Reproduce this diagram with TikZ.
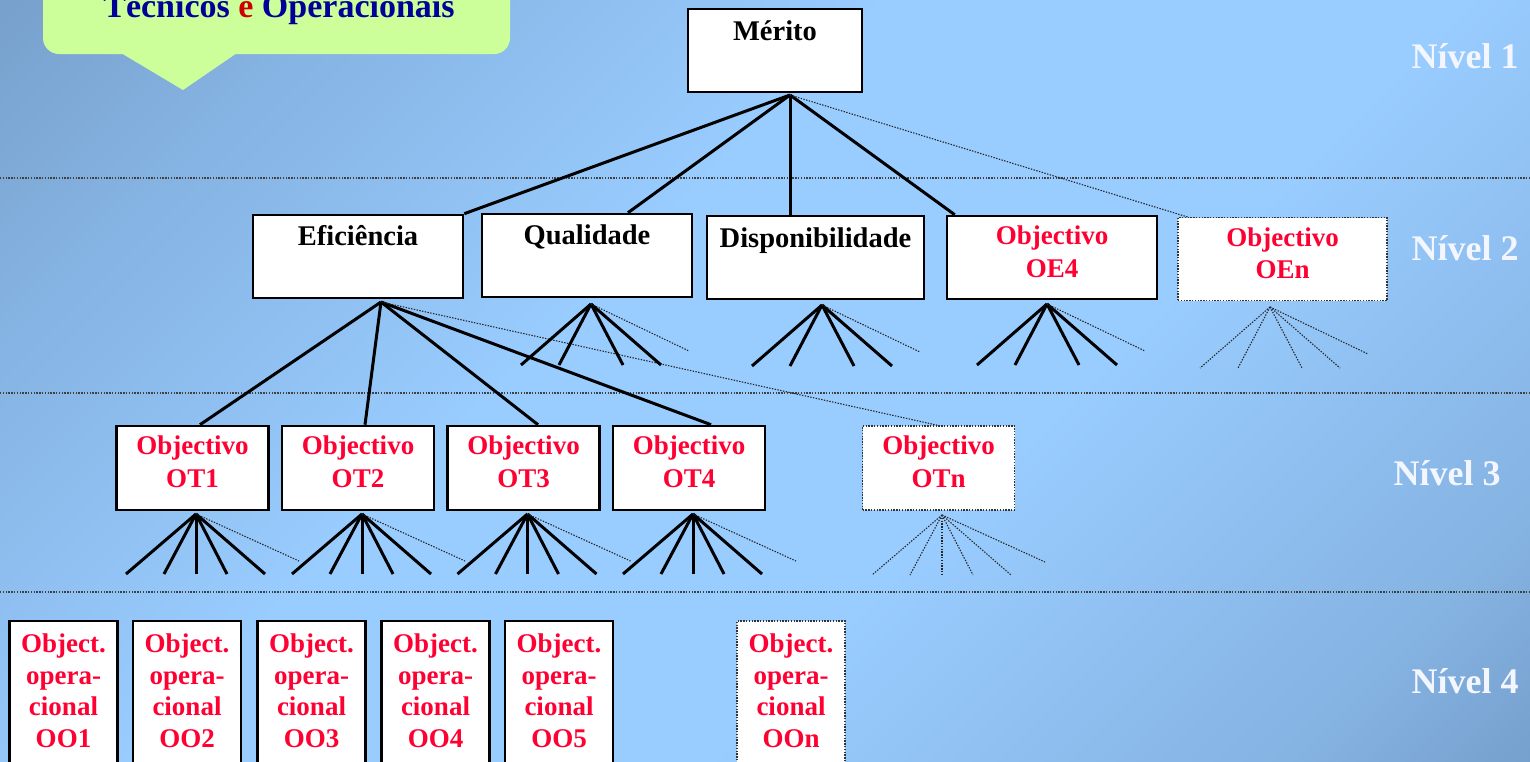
\documentclass[tikz,border=0pt]{standalone}
\usepackage{fontspec}
\setmainfont{Liberation Serif}

\definecolor{bgA}{HTML}{6586AE}
\definecolor{bgB}{HTML}{85B3E2}
\definecolor{bgC}{HTML}{99CCFF}
\definecolor{bgD}{HTML}{587AA6}
\definecolor{callout}{HTML}{CCFF99}
\definecolor{navy}{HTML}{000099}
\definecolor{darkred}{HTML}{CC0000}
\definecolor{objred}{HTML}{FF0033}
\definecolor{nivtxt}{HTML}{F4F6FF}

\pgfdeclarehorizontalshading{bgshade}{100bp}{color(0bp)=(bgA); color(25bp)=(bgB); color(42bp)=(bgC); color(60bp)=(bgC); color(78bp)=(bgB); color(100bp)=(bgD)}

\begin{document}
\begin{tikzpicture}[x=1pt, y=-1pt,
    box/.style={draw, fill=white, line width=2.6pt, inner sep=0pt},
    dbox/.style={draw=black!80, fill=white, line width=1.1pt, dash pattern=on 1.4pt off 1.4pt, inner sep=0pt},
    lvl2/.style={minimum width=210pt, minimum height=83pt},
    lvl3/.style={minimum width=152pt, minimum height=84pt},
    lvl4/.style={minimum width=108pt, minimum height=150pt},
    lab/.style={anchor=base, inner sep=0pt, align=center},
    blk/.style={font=\fontsize{28.5}{33}\selectfont\bfseries},
    objtxt/.style={text=objred, font=\fontsize{27}{32.5}\selectfont\bfseries},
    optxt/.style={text=objred, font=\fontsize{27}{31.5}\selectfont\bfseries},
    conn/.style={line width=3pt},
    dconn/.style={draw=black!85, line width=1.1pt, dash pattern=on 1.4pt off 1.4pt},
    sep/.style={draw=black!75, line width=1.2pt, dash pattern=on 1.4pt off 1.4pt},
    nivel/.style={text=nivtxt, font=\fontsize{36}{40}\selectfont\bfseries, anchor=base}]

    % background
    \clip (0,0) rectangle (1530,761);
    \shade[shading=bgshade, shading angle=-45] (0,0) rectangle (1530,761);

    % level separators
    \draw[sep] (0,178) -- (1530,178);
    \draw[sep] (0,393) -- (1530,393);
    \draw[sep] (0,592) -- (1530,592);

    % callout
    \fill[callout, rounded corners=16pt] (43,-40) rectangle (510,54);
    \fill[callout] (121,53) -- (183,90) -- (237,53) -- cycle;
    \node[anchor=base, font=\fontsize{34}{38}\selectfont\bfseries] (tecop) at (279,17)
        {\textcolor{navy}{Técnicos} \textcolor{darkred}{e} \textcolor{navy}{Operacionais}};

    % level 1
    \node[box, minimum width=174pt, minimum height=83pt,
        label={[lab, blk, yshift=-32.5pt]north:Mérito}] (merito) at (775,50.5) {};

    % level 2
    \node[box, lvl2, label={[lab, blk, yshift=-31.5pt]north:Eficiência}] (ef) at (358,256.5) {};
    \node[box, lvl2, label={[lab, blk, yshift=-31.5pt]north:Qualidade}] (qual) at (587,255.5) {};
    \node[box, lvl2, minimum width=217pt,
        label={[lab, blk, yshift=-32.5pt]north:Disponibilidade}] (disp) at (815.5,257.5) {};
    \node[box, lvl2, label={[lab, objtxt, yshift=-62.5pt]north:Objectivo\\OE4}] (oe4) at (1052,257.5) {};
    \node[dbox, lvl2, minimum width=209pt,
        label={[lab, objtxt, yshift=-62pt]north:Objectivo\\OEn}] (oen) at (1282.5,259) {};

    % level 3
    \node[box, lvl3, label={[lab, objtxt, yshift=-62.5pt]north:Objectivo\\OT1}] (ot1) at (192.5,468) {};
    \node[box, lvl3, label={[lab, objtxt, yshift=-62.5pt]north:Objectivo\\OT2}] (ot2) at (358,468) {};
    \node[box, lvl3, label={[lab, objtxt, yshift=-62.5pt]north:Objectivo\\OT3}] (ot3) at (523.5,468) {};
    \node[box, lvl3, label={[lab, objtxt, yshift=-62.5pt]north:Objectivo\\OT4}] (ot4) at (689,468) {};
    \node[dbox, lvl3, label={[lab, objtxt, yshift=-62pt]north:Objectivo\\OTn}] (otn) at (938.5,468) {};

    % level 4
    \foreach \i/\x in {1/63.5, 2/187, 3/311.5, 4/435.5, 5/559}
        \node[box, lvl4, label={[lab, optxt, yshift=-127.5pt]north:Object.\\opera-\\cional\\OO\i}] (oo\i) at (\x,696) {};
    \node[dbox, lvl4, label={[lab, optxt, yshift=-127pt]north:Object.\\opera-\\cional\\OOn}] (oon) at (791,696) {};

    % level labels
    \node[nivel] (niv1) at (1465,68) {Nível 1};
    \node[nivel] (niv2) at (1465,260) {Nível 2};
    \node[nivel] (niv3) at (1447,485) {Nível 3};
    \node[nivel] (niv4) at (1465,693) {Nível 4};

    % level 1 -> level 2
    \coordinate (mer-f) at (790,95);
    \draw[conn] (mer-f) -- (ef.north east);
    \draw[conn] (mer-f) -- ([xshift=41pt]qual.north);
    \draw[conn] (mer-f) -- ([xshift=-25.5pt]disp.north);
    \draw[conn] (mer-f) -- ([xshift=9pt]oe4.north west);
    \draw[dconn] (mer-f) -- ([xshift=10pt]oen.north west);

    % Eficiencia -> level 3
    \coordinate (ef-f) at (381,302);
    \draw[conn] (ef-f) -- ([xshift=7.5pt]ot1.north);
    \draw[conn] (ef-f) -- ([xshift=7pt]ot2.north);
    \draw[conn] (ef-f) -- ([xshift=14.5pt]ot3.north);
    \draw[conn] (ef-f) -- ([xshift=22pt]ot4.north);
    \draw[dconn] (ef-f) -- (otn.north);

    % fans under level 2
    \coordinate (qual-f) at (591,304);
    \coordinate (disp-f) at (822,305);
    \coordinate (oe4-f) at (1047,304);
    \coordinate (oen-f) at (1270,307);
    \foreach \b/\s in {qual/conn, disp/conn, oe4/conn, oen/dconn} {
        \foreach \dx [count=\i] in {-70,-32,32,70} {
            \coordinate (\b-\i) at ([shift={(\dx,61)}]\b-f);
            \draw[\s] (\b-f) -- (\b-\i);
        }
        \coordinate (\b-n) at ([shift={(98,47)}]\b-f);
        \draw[dconn] (\b-f) -- (\b-n);
    }

    % fans under level 3
    \coordinate (ot1-f) at (196,514);
    \coordinate (ot2-f) at (362,514);
    \coordinate (ot3-f) at (527.5,514);
    \coordinate (ot4-f) at (693,514);
    \coordinate (otn-f) at (942,515);
    \foreach \b/\s in {ot1/conn, ot2/conn, ot3/conn, ot4/conn, otn/dconn} {
        \foreach \dx [count=\i] in {-70,-32,0,31,69} {
            \coordinate (\b-\i) at ([shift={(\dx,60)}]\b-f);
            \draw[\s] (\b-f) -- (\b-\i);
        }
        \coordinate (\b-n) at ([shift={(103,47)}]\b-f);
        \draw[dconn] (\b-f) -- (\b-n);
    }
\end{tikzpicture}
\end{document}
